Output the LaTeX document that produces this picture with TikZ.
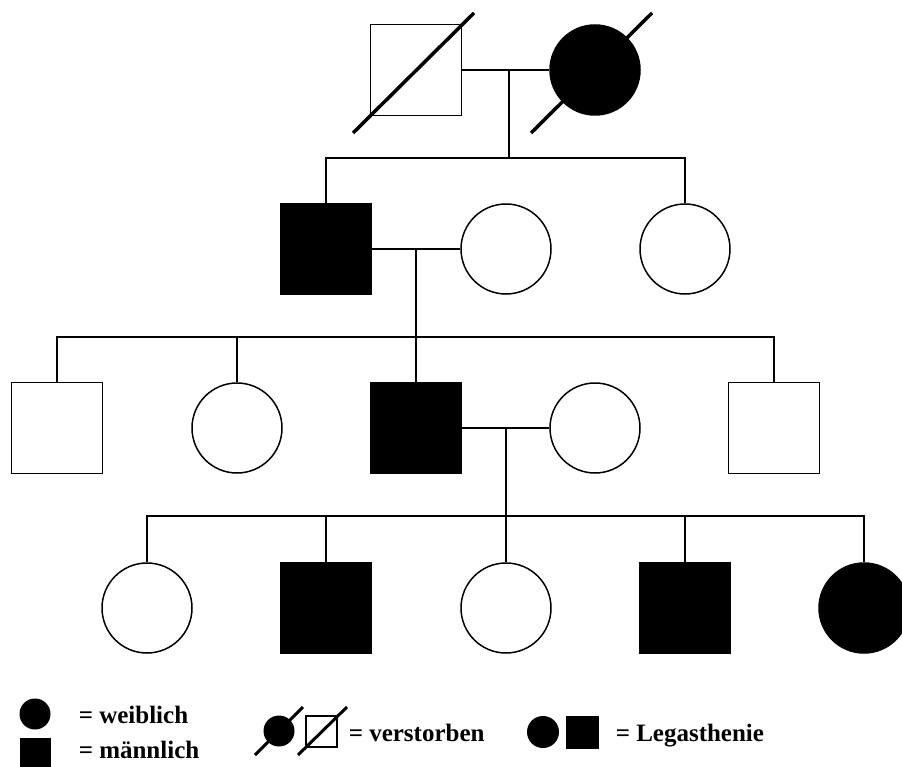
\documentclass[tikz,border=0pt]{standalone}
\usepackage{fontspec}
\setmainfont{Liberation Serif}

\begin{document}
\begin{tikzpicture}[x=1pt,y=-1pt,line width=1.5pt,
    male/.style={draw,rectangle,fill=white,minimum size=91pt,inner sep=0pt},
    female/.style={draw,circle,fill=white,minimum size=90pt,inner sep=0pt},
    affected/.style={fill=black},
    gone/.style={line width=3.5pt},
    keymale/.style={rectangle,fill=black,minimum size=31pt,inner sep=0pt},
    keyfemale/.style={circle,fill=black,minimum size=31pt,inner sep=0pt},
    keytext/.style={font=\fontsize{25}{30}\selectfont\bfseries,anchor=base west,inner sep=0pt}]
  \useasboundingbox (0,0) rectangle (902,767);

  % generation I
  \node[male] (a1) at (416,70) {};
  \node[female,affected] (a2) at (595,70) {};
  \draw[gone] ([shift={(-63,63)}]a1.center) -- ([shift={(58,-57)}]a1.center);
  \draw[gone] ([shift={(-64,63)}]a2.center) -- ([shift={(57,-57)}]a2.center);

  % generation II
  \node[male,affected] (b1) at (326,249) {};
  \node[female] (b2) at (506,249) {};
  \node[female] (b3) at (685,249) {};

  % generation III
  \node[male] (c1) at (57,428) {};
  \node[female] (c2) at (237,428) {};
  \node[male,affected] (c3) at (416,428) {};
  \node[female] (c4) at (595,428) {};
  \node[male] (c5) at (774,428) {};

  % generation IV
  \node[female] (d1) at (147,608) {};
  \node[male,affected] (d2) at (326,608) {};
  \node[female] (d3) at (506,608) {};
  \node[male,affected] (d4) at (685,608) {};
  \node[female,affected] (d5) at (864,608) {};

  % lines
  \coordinate (ma) at (509,70);
  \coordinate (sa) at (509,158);
  \draw (a1.east) -- (a2.west);
  \draw (ma) -- (sa);
  \draw (b1.north) |- (sa) -| (b3.north);

  \coordinate (mb) at (416,249);
  \coordinate (sb) at (416,337);
  \draw (b1.east) -- (b2.west);
  \draw (mb) -- (sb);
  \draw (c1.north) |- (sb) -| (c5.north);
  \draw (c2.north) -- (c2.north |- sb);
  \draw (c3.north) -- (c3.north |- sb);

  \coordinate (mc) at (506,428);
  \coordinate (sc) at (506,516);
  \draw (c3.east) -- (c4.west);
  \draw (mc) -- (sc);
  \draw (d1.north) |- (sc) -| (d5.north);
  \draw (d2.north) -- (d2.north |- sc);
  \draw (d3.north) -- (d3.north |- sc);
  \draw (d4.north) -- (d4.north |- sc);

  % legend
  \node[keyfemale] (kf) at (35,714) {};
  \node[keymale] (km) at (35.5,753) {};
  \node[keytext] (tf) at (78,723) {= weiblich};
  \node[keytext] (tm) at (78,758) {= männlich};

  \node[keyfemale] (kdf) at (279,731) {};
  \node[male,minimum size=31pt] (kdm) at (321.5,731.5) {};
  \draw[gone,line width=3pt] ([shift={(-24,24)}]kdf.center) -- ([shift={(24,-24)}]kdf.center);
  \draw[gone,line width=3pt] ([shift={(-23.5,23.5)}]kdm.center) -- ([shift={(25.5,-24.5)}]kdm.center);
  \node[keytext] (td) at (348,741) {= verstorben};

  \node[keyfemale,minimum size=32pt] (klf) at (543,732) {};
  \node[keymale,minimum size=33pt] (klm) at (582.5,732.5) {};
  \node[keytext] (tl) at (615,741) {= Legasthenie};
\end{tikzpicture}
\end{document}
